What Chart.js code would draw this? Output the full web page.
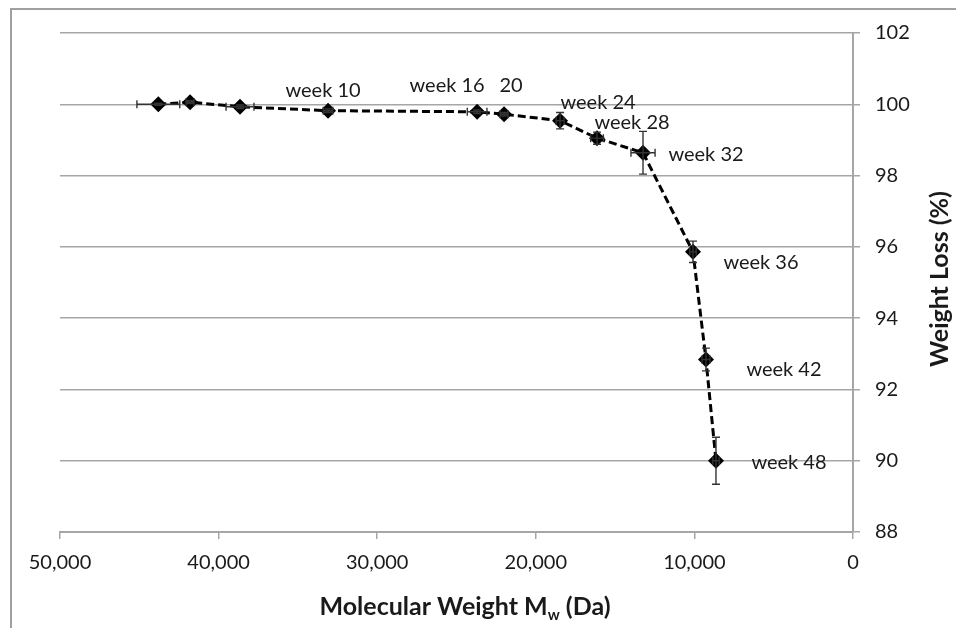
<!DOCTYPE html>
<html>
<head>
<meta charset="utf-8">
<script src="https://cdn.jsdelivr.net/npm/chart.js@4.4.1/dist/chart.umd.min.js"></script>
<style>
  html, body { margin: 0; padding: 0; background: #fff; }
  #wrap { width: 956px; height: 628px; position: relative; }
</style>
</head>
<body>
<div id="wrap"><canvas id="chart" width="956" height="628"></canvas></div>
<script>
// Molecular weight (Da) vs weight loss (%) over degradation time
const molWeight = [43800, 41800, 38650, 33100, 23700, 22000, 18470, 16140, 13240, 10090, 9270, 8640];
const weightLoss = [100.0, 100.06, 99.93, 99.82, 99.79, 99.72, 99.54, 99.05, 98.64, 95.86, 92.84, 90.0];
const molWeightErr = [1350, 250, 880, 300, 620, 250, 250, 400, 760, 200, 250, 200];
const weightLossErr = [0.03, 0.04, 0.05, 0.05, 0.05, 0.05, 0.23, 0.17, 0.6, 0.3, 0.32, 0.66];
const weekLabels = ['', '', '', 'week 10', 'week 16', '20', 'week 24', 'week 28', 'week 32', 'week 36', 'week 42', 'week 48'];
// label offset from its point, in px
const labelOffsets = [[0, 0], [0, 0], [0, 0], [-5, -20], [-30, -26], [7, -29], [38, -18], [35, -16], [63, 2], [68, 11], [78, 10], [73, 2]];

const font = 'Lato';
const grey = '#a6a6a6';

const points = molWeight.map((x, i) => ({ x: x, y: weightLoss[i] }));

// frame round the whole picture
const framePlugin = {
  id: 'frame',
  beforeDraw(chart) {
    const c = chart.ctx;
    c.save();
    c.strokeStyle = '#a0a0a0';
    c.lineWidth = 2;
    c.beginPath();
    c.moveTo(11, 640);
    c.lineTo(11, 9);
    c.lineTo(960, 9);
    c.stroke();
    c.restore();
  }
};

// x and y error bars with caps
const errorBars = {
  id: 'errorBars',
  afterDatasetsDraw(chart) {
    const c = chart.ctx;
    const xs = chart.scales.x, ys = chart.scales.y;
    const cap = 4;
    c.save();
    c.strokeStyle = '#333';
    c.lineWidth = 1.4;
    molWeight.forEach((mx, i) => {
      const px = xs.getPixelForValue(mx);
      const py = ys.getPixelForValue(weightLoss[i]);
      const x1 = xs.getPixelForValue(mx - molWeightErr[i]);
      const x2 = xs.getPixelForValue(mx + molWeightErr[i]);
      const y1 = ys.getPixelForValue(weightLoss[i] - weightLossErr[i]);
      const y2 = ys.getPixelForValue(weightLoss[i] + weightLossErr[i]);
      c.beginPath();
      c.moveTo(x1, py); c.lineTo(x2, py);
      c.moveTo(x1, py - cap); c.lineTo(x1, py + cap);
      c.moveTo(x2, py - cap); c.lineTo(x2, py + cap);
      c.moveTo(px, y1); c.lineTo(px, y2);
      c.moveTo(px - cap, y1); c.lineTo(px + cap, y1);
      c.moveTo(px - cap, y2); c.lineTo(px + cap, y2);
      c.stroke();
    });
    c.restore();
  }
};

// week labels next to points, and axis titles
const textPlugin = {
  id: 'texts',
  afterDraw(chart) {
    const c = chart.ctx;
    const xs = chart.scales.x, ys = chart.scales.y;
    const area = chart.chartArea;
    c.save();
    c.fillStyle = '#1a1a1a';
    c.font = '20px ' + font;
    c.textAlign = 'center';
    c.textBaseline = 'middle';
    weekLabels.forEach((t, i) => {
      if (!t) return;
      const px = xs.getPixelForValue(molWeight[i]) + labelOffsets[i][0];
      const py = ys.getPixelForValue(weightLoss[i]) + labelOffsets[i][1];
      c.fillText(t, px, py);
    });

    // x title with subscript w
    const big = 'bold 25px ' + font, small = 'bold 15px ' + font;
    c.textAlign = 'left';
    const a = 'Molecular Weight M', b = 'w', d = ' (Da)';
    c.font = big;
    const wa = c.measureText(a).width, wd = c.measureText(d).width;
    c.font = small;
    const wb = c.measureText(b).width;
    const total = wa + wb + wd;
    const x0 = 465 - total / 2;
    const ty = 607;
    c.font = big;
    c.fillText(a, x0, ty);
    c.font = small;
    c.fillText(b, x0 + wa, ty + 8);
    c.font = big;
    c.fillText(d, x0 + wa + wb, ty);

    // y title
    c.translate(940, 279);
    c.rotate(-Math.PI / 2);
    c.textAlign = 'center';
    c.fillText('Weight Loss (%)', 0, 0);
    c.restore();
  }
};

new Chart(document.getElementById('chart'), {
  type: 'scatter',
  data: {
    datasets: [{
      data: points,
      showLine: true,
      borderColor: '#000',
      borderWidth: 3,
      borderDash: [8, 4],
      pointStyle: 'rectRot',
      pointRadius: 8,
      pointBackgroundColor: '#000',
      pointBorderColor: '#000',
      pointBorderWidth: 0
    }]
  },
  options: {
    responsive: false,
    animation: false,
    events: [],
    layout: { padding: { left: 60, top: 33, right: 0, bottom: 0 } },
    plugins: { legend: { display: false }, tooltip: { enabled: false } },
    scales: {
      x: {
        type: 'linear',
        reverse: true,
        min: 0,
        max: 50000,
        ticks: { stepSize: 10000, color: '#1a1a1a', font: { family: font, size: 20 }, padding: 12, maxRotation: 0 },
        grid: { drawOnChartArea: false, color: grey, lineWidth: 1.5, tickLength: 7 },
        border: { color: grey, width: 2 },
        afterFit(scale) { scale.height = 96; }
      },
      y: {
        position: 'right',
        min: 88,
        max: 102,
        ticks: { stepSize: 2, color: '#1a1a1a', font: { family: font, size: 20 }, padding: 15 },
        grid: { color: grey, lineWidth: 1.5, tickLength: 7 },
        border: { color: grey, width: 2 },
        afterFit(scale) { scale.width = 103; }
      }
    }
  },
  plugins: [framePlugin, errorBars, textPlugin]
});
</script>
</body>
</html>
